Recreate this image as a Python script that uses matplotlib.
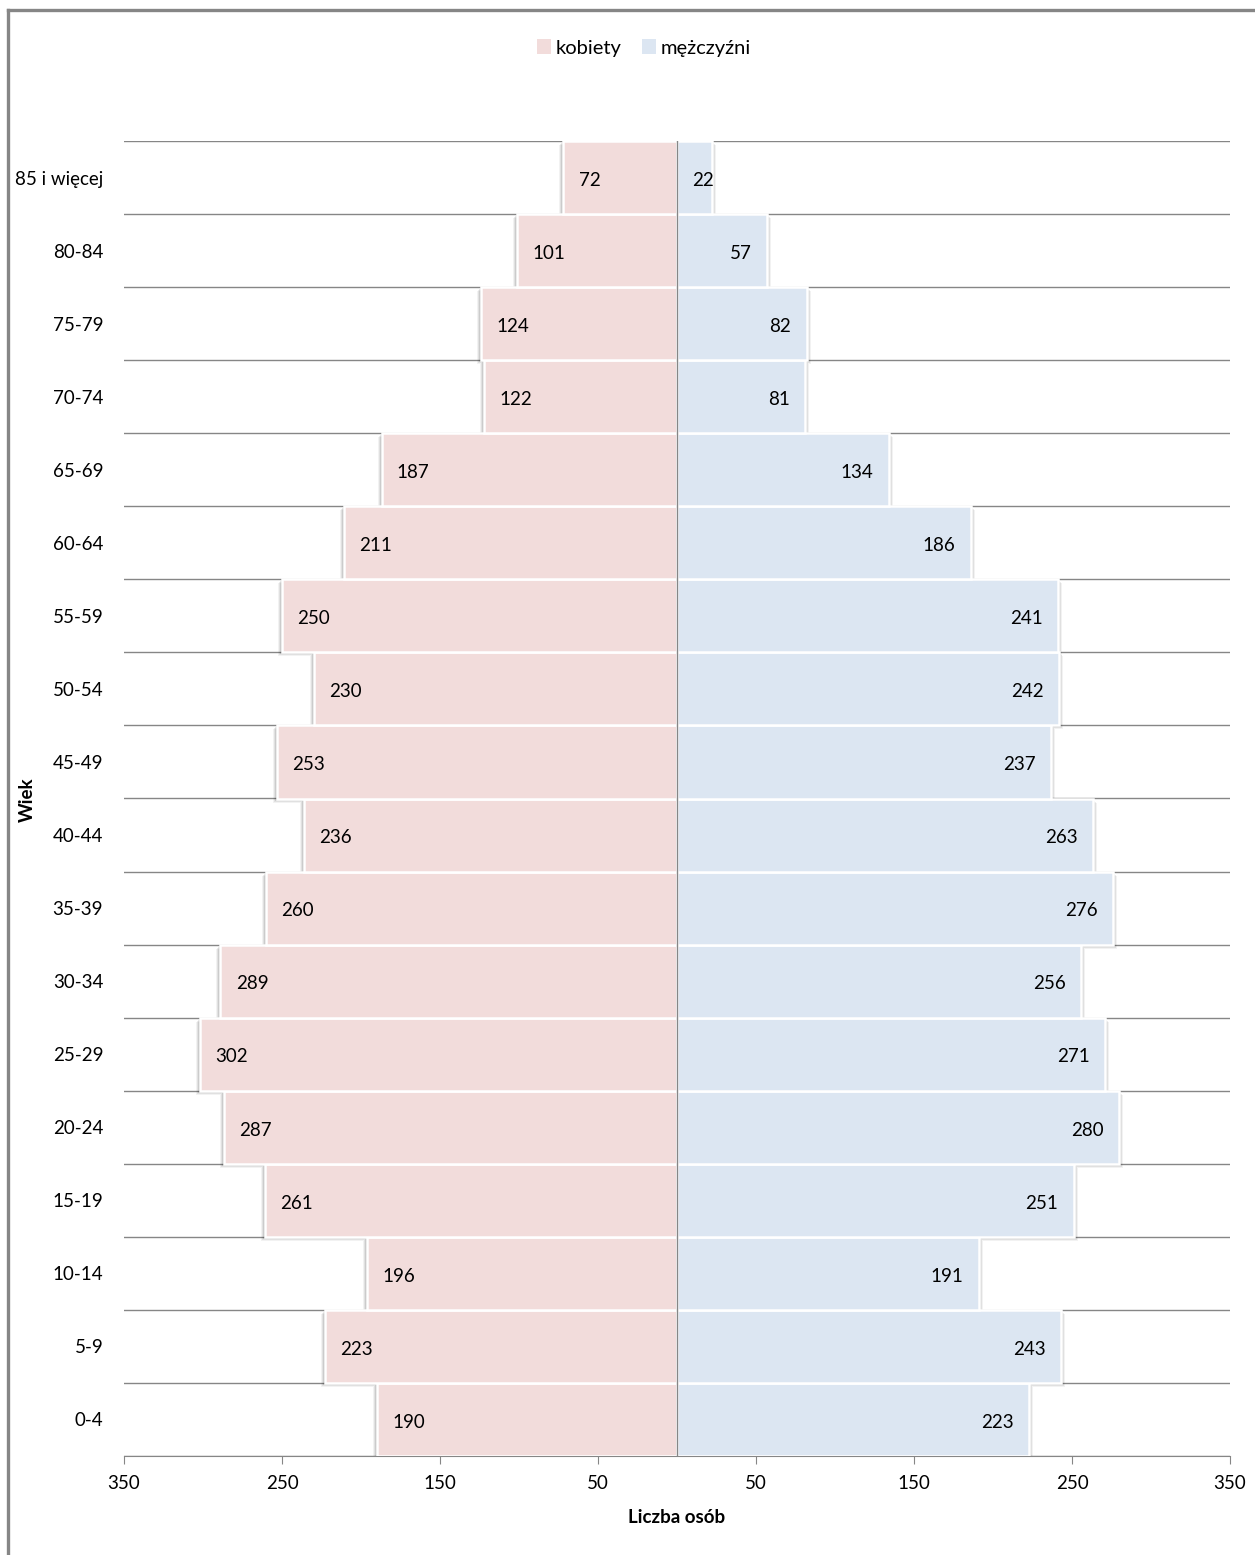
import matplotlib
matplotlib.use("Agg")
import matplotlib.pyplot as plt
import matplotlib.transforms as mtransforms
from matplotlib.patches import Patch
from matplotlib.lines import Line2D

plt.rcParams["font.family"] = ["Lato", "DejaVu Sans"]

# ── Data (bottom to top) ──────────────────────────────────────────────
age_groups = ["0-4", "5-9", "10-14", "15-19", "20-24", "25-29", "30-34",
              "35-39", "40-44", "45-49", "50-54", "55-59", "60-64", "65-69",
              "70-74", "75-79", "80-84", "85 i więcej"]
women = [190, 223, 196, 261, 287, 302, 289, 260, 236, 253, 230, 250, 211,
         187, 122, 124, 101, 72]
men = [223, 243, 191, 251, 280, 271, 256, 276, 263, 237, 242, 241, 186,
       134, 81, 82, 57, 22]
x_ticks = [-350, -250, -150, -50, 50, 150, 250, 350]

WOMEN_COLOR = "#F2DCDB"
MEN_COLOR = "#DCE6F2"
GRID_COLOR = "#868686"
FS = 13.5
INSET = 11  # points between bar end and label
DY = -2     # small vertical nudge of value labels (points)

fig = plt.figure(figsize=(12.55, 15.55), dpi=100)
ax = fig.add_axes([124 / 1255, 1 - 1456 / 1555, 1106 / 1255, 1315 / 1555])

y = list(range(len(age_groups)))
neg_women = [-v for v in women]

# soft shadows (offset outward and down)
for d, a in [(4, 0.05), (3, 0.07), (2, 0.09), (1, 0.10)]:
    tr_w = mtransforms.offset_copy(ax.transData, fig=fig, x=-d, y=-d, units="dots")
    tr_m = mtransforms.offset_copy(ax.transData, fig=fig, x=d, y=-d, units="dots")
    ax.barh(y, neg_women, height=1.0, color="black", alpha=a, linewidth=0,
            transform=tr_w, zorder=2)
    ax.barh(y, men, height=1.0, color="black", alpha=a, linewidth=0,
            transform=tr_m, zorder=2)

ax.barh(y, neg_women, height=1.0, color=WOMEN_COLOR, edgecolor="white",
        linewidth=1.8, zorder=3)
ax.barh(y, men, height=1.0, color=MEN_COLOR, edgecolor="white",
        linewidth=1.8, zorder=3)

ax.set_xlim(-350, 350)
ax.set_ylim(-0.5, len(age_groups) - 0.5)

# value labels inside the outer end of each bar
px_per_unit = 1106 / 700
for i in y:
    ax.annotate(str(women[i]), (-women[i], i), xytext=(INSET, DY),
                textcoords="offset points", ha="left", va="center",
                fontsize=FS, color="black", zorder=5)
    label_w = 7.5 * len(str(men[i]))  # approx width in points
    if men[i] * px_per_unit * 0.72 < 2 * INSET + label_w:
        # too short: keep the label just clear of the center axis
        ax.annotate(str(men[i]), (0, i), xytext=(INSET, DY),
                    textcoords="offset points", ha="left", va="center",
                    fontsize=FS, color="black", zorder=5)
    else:
        ax.annotate(str(men[i]), (men[i], i), xytext=(-INSET, DY),
                    textcoords="offset points", ha="right", va="center",
                    fontsize=FS, color="black", zorder=5)

# category boundaries and center axis
for b in range(len(age_groups) + 1):
    ax.axhline(b - 0.5, color=GRID_COLOR, linewidth=1, zorder=1)
ax.axvline(0, color=GRID_COLOR, linewidth=1, zorder=4)

ax.set_xticks(x_ticks)
ax.set_xticklabels([str(abs(t)) for t in x_ticks])
ax.set_yticks(y)
ax.set_yticklabels(age_groups)
ax.tick_params(axis="y", length=0, pad=15, labelsize=FS)
ax.tick_params(axis="x", length=6, color=GRID_COLOR, pad=8, labelsize=FS)
for side in ["top", "right", "left"]:
    ax.spines[side].set_visible(False)
ax.spines["bottom"].set_color(GRID_COLOR)

ax.set_xlabel("Liczba osób", fontsize=FS, fontweight="bold", labelpad=12)
fig.text(27 / 1255, 1 - 800 / 1555, "Wiek", rotation=90, ha="center",
         va="center", fontsize=FS, fontweight="bold")

handles = [Patch(facecolor=WOMEN_COLOR, edgecolor="none", label="kobiety"),
           Patch(facecolor=MEN_COLOR, edgecolor="none", label="mężczyźni")]
fig.legend(handles=handles, loc="center", bbox_to_anchor=(644 / 1255, 1 - 48 / 1555),
           ncol=2, frameon=False, fontsize=14.5, handlelength=0.7,
           handleheight=0.7, handletextpad=0.25, columnspacing=1.0)

# chart frame (top and left edges visible)
fig.add_artist(Line2D([8 / 1255, 8 / 1255], [0, 1 - 10 / 1555],
                      transform=fig.transFigure, color="#868686", linewidth=2.4))
fig.add_artist(Line2D([8 / 1255, 1], [1 - 10 / 1555, 1 - 10 / 1555],
                      transform=fig.transFigure, color="#868686", linewidth=2.4))

fig.savefig("out.png", dpi=100, facecolor="white")
